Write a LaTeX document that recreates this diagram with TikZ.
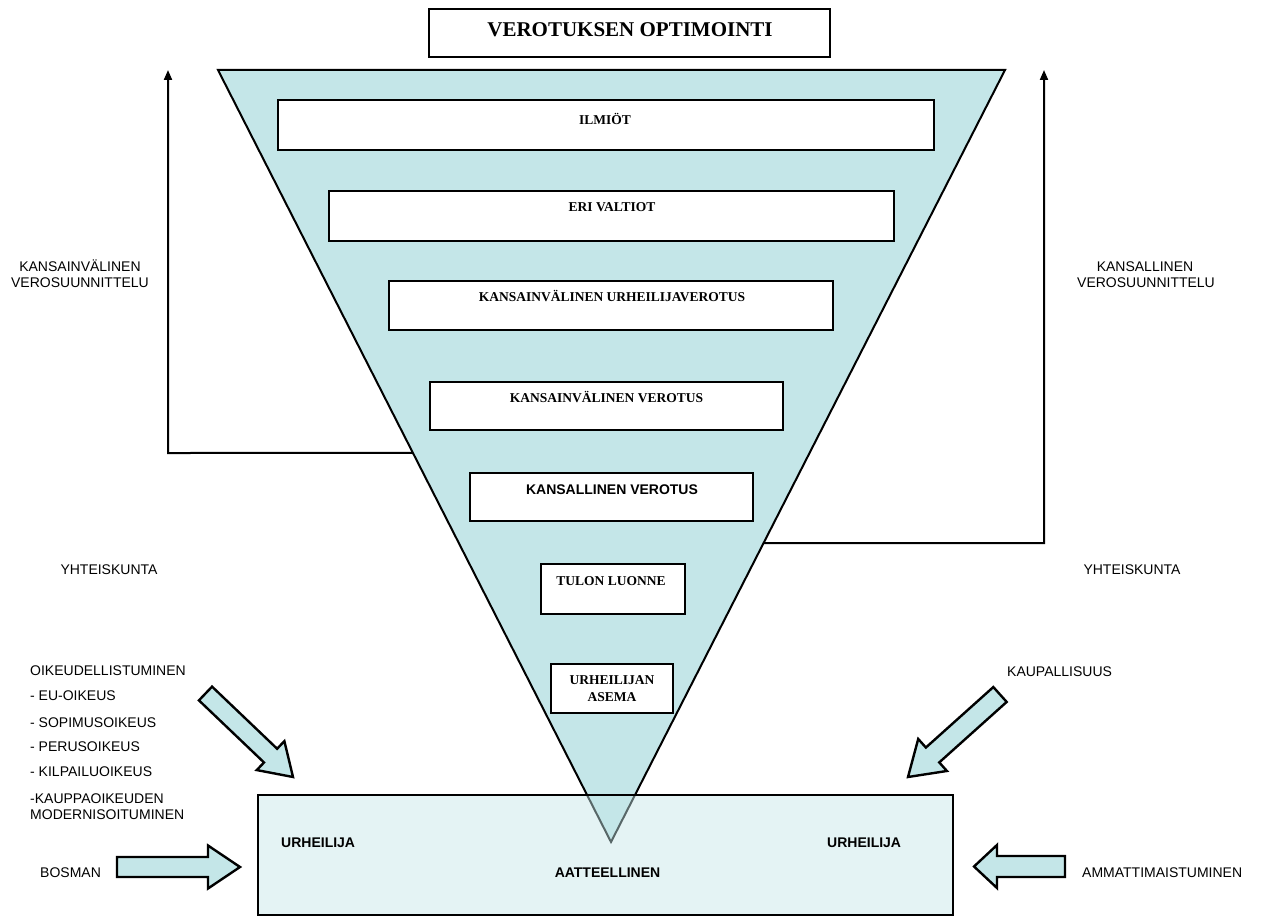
\documentclass[tikz,border=0pt]{standalone}
\usepackage{fontspec}
\setmainfont{Liberation Serif}
\setsansfont{Liberation Sans}
\usetikzlibrary{calc,arrows.meta}
\definecolor{tri}{RGB}{196,230,232}
\newcommand\myblockarrow[6]{%
  \coordinate (#1-b) at ($(#3)!#6!(#2)$);
  \draw[blockarr] ($(#2)!#4!90:(#3)$) -- ($(#1-b)!#4!90:(#3)$) -- ($(#1-b)!#5!90:(#3)$) -- (#3)
    -- ($(#1-b)!#5!-90:(#3)$) -- ($(#1-b)!#4!-90:(#3)$) -- ($(#2)!#4!-90:(#3)$) -- cycle;
}
\tikzset{
  tribox/.style={draw, line width=2.4pt, fill=white, inner sep=0pt},
  btxt/.style={font=\fontsize{13.5}{16}\selectfont\bfseries, anchor=base, inner sep=0pt},
  stxt/.style={font=\sffamily\fontsize{14}{16}\selectfont, anchor=base, inner sep=0pt},
  sbtxt/.style={stxt, font=\sffamily\bfseries\fontsize{14}{16}\selectfont},
  lst/.style={stxt, anchor=base west},
  blockarr/.style={draw, fill=tri, line width=2.4pt, line join=miter},
  thinarr/.style={line width=2pt, -{Triangle[length=10pt,width=8pt]}}
}
\begin{document}
\begin{tikzpicture}[x=1pt,y=-1pt]
\useasboundingbox (0,0) rectangle (1261,917);
\fill[white] (0,0) rectangle (1261,917);

% title
\node[draw, line width=2.4pt, fill=white, minimum width=401pt, minimum height=48pt, inner sep=0pt] (title) at (629.5,33) {};
\node[anchor=base, inner sep=0pt, font=\fontsize{21}{24}\selectfont\bfseries] (titletxt) at (630,37) {VEROTUKSEN OPTIMOINTI};

% triangle
\coordinate (TL) at (218,70);
\coordinate (TR) at (1005,70);
\coordinate (AP) at (611,842);
\draw[line width=2pt, fill=tri, line join=miter] (TL) -- (TR) -- (AP) -- cycle;

% boxes in triangle
\node[tribox, minimum width=656pt, minimum height=50pt] (b1) at (606,125) {};
\node[btxt] (t1) at (605,125) {ILMIÖT};
\node[tribox, minimum width=565pt, minimum height=50pt] (b2) at (611.5,216) {};
\node[btxt] (t2) at (612,211.5) {ERI VALTIOT};
\node[tribox, minimum width=444pt, minimum height=49pt] (b3) at (611,305.5) {};
\node[btxt] (t3) at (612,301.5) {KANSAINVÄLINEN URHEILIJAVEROTUS};
\node[tribox, minimum width=353pt, minimum height=48pt] (b4) at (606.5,406) {};
\node[btxt] (t4) at (606.5,402.5) {KANSAINVÄLINEN VEROTUS};
\node[tribox, minimum width=283pt, minimum height=48pt] (b5) at (611.5,497) {};
\node[sbtxt] (t5) at (612,494) {KANSALLINEN VEROTUS};
\node[tribox, minimum width=144pt, minimum height=50pt] (b6) at (613,589) {};
\node[btxt] (t6) at (611,585.5) {TULON LUONNE};
\node[tribox, minimum width=122pt, minimum height=49pt] (b7) at (612,688.5) {};
\node[btxt] (t7a) at (612,684.5) {URHEILIJAN};
\node[btxt] (t7b) at (612,701.5) {ASEMA};

% thin arrows
\coordinate (Lfoot) at ($(TL)!0.4961!(AP)$);
\coordinate (Lcorner) at (168,453);
\coordinate (Ltop) at (168,70);
\draw[thinarr] (Lfoot) -- (Lcorner) -- (Ltop);
\coordinate (Rfoot) at ($(TR)!0.6127!(AP)$);
\coordinate (Rcorner) at (1044,543);
\coordinate (Rtop) at (1044,70);
\draw[thinarr] (Rfoot) -- (Rcorner) -- (Rtop);

% bottom box
\node[draw, line width=2.4pt, fill=tri, fill opacity=0.45, minimum width=695pt, minimum height=120pt, inner sep=0pt] (bottom) at (605.5,855) {};
\node[sbtxt, anchor=base west] (u1) at (281,847) {URHEILIJA};
\node[sbtxt, anchor=base west] (u2) at (827,847) {URHEILIJA};
\node[sbtxt] (aat) at (607.5,877) {AATTEELLINEN};

% block arrows
\coordinate (A1t) at (205.5,693.5); \coordinate (A1p) at (293,777);
\myblockarrow{A1}{A1t}{A1p}{9.5pt}{20pt}{31pt}
\coordinate (A2t) at (1000,694.5); \coordinate (A2p) at (908,777);
\myblockarrow{A2}{A2t}{A2p}{10pt}{21.5pt}{33pt}
\coordinate (A3t) at (117,867); \coordinate (A3p) at (240,867);
\myblockarrow{A3}{A3t}{A3p}{10pt}{21.5pt}{32pt}
\coordinate (A4t) at (1065,866.5); \coordinate (A4p) at (974,866.5);
\myblockarrow{A4}{A4t}{A4p}{10.5pt}{21.5pt}{23pt}

% side labels
\node[stxt] (kl1) at (80,272) {KANSAINVÄLINEN};
\node[stxt] (kl2) at (80,288) {VEROSUUNNITTELU};
\node[stxt] (kr1) at (1145,272) {KANSALLINEN};
\node[stxt] (kr2) at (1146,288) {VEROSUUNNITTELU};
\node[stxt] (yl) at (109,574) {YHTEISKUNTA};
\node[stxt] (yr) at (1132,574) {YHTEISKUNTA};

% left list
\node[lst] (l1) at (30,675) {OIKEUDELLISTUMINEN};
\node[lst] (l2) at (30,700) {- EU-OIKEUS};
\node[lst] (l3) at (30,727) {- SOPIMUSOIKEUS};
\node[lst] (l4) at (30,751) {- PERUSOIKEUS};
\node[lst] (l5) at (30,776) {- KILPAILUOIKEUS};
\node[lst] (l6) at (30,803) {-KAUPPAOIKEUDEN};
\node[lst] (l7) at (30,819) {MODERNISOITUMINEN};
\node[lst] (bos) at (40,877) {BOSMAN};
\node[lst] (kau) at (1007,676) {KAUPALLISUUS};
\node[lst] (amm) at (1082,877) {AMMATTIMAISTUMINEN};
\end{tikzpicture}
\end{document}
